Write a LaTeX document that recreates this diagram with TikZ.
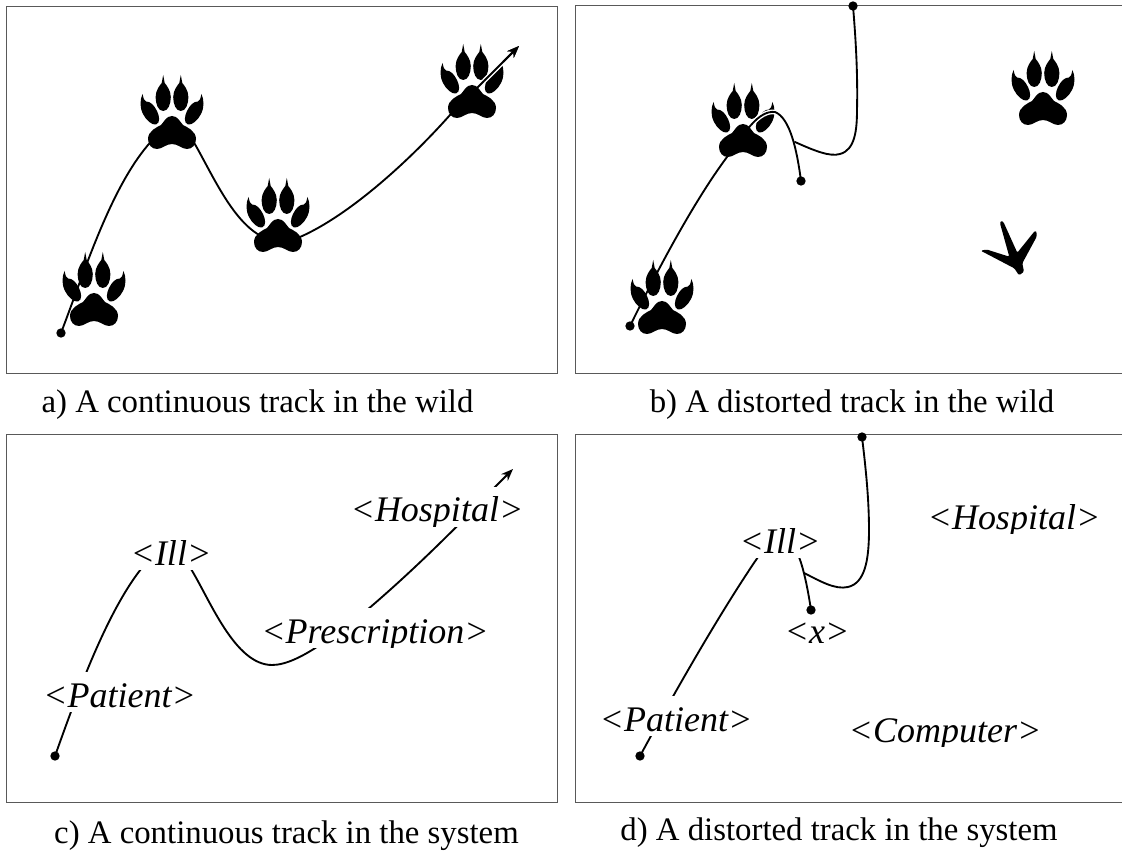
\documentclass[tikz,border=0pt]{standalone}
\usepackage{fontspec}
\setmainfont{Liberation Serif}
\usetikzlibrary{arrows.meta}
\tikzset{
  frameline/.style={draw=black!65,line width=0.75pt},
  track/.style={line width=1.4pt,line cap=round},
  trackdot/.style={circle,fill=black,inner sep=0pt,minimum size=7pt},
  arrowed/.style={-{Stealth[length=9pt,width=7pt]}},
  caption/.style={font=\fontsize{24.6}{28}\selectfont,anchor=base,inner sep=0pt},
  markbox/.style={fill=white,anchor=base,inner xsep=1pt,inner ysep=0pt,text height=26pt,text depth=3.4pt,font=\fontsize{27}{30}\selectfont\itshape},
  marktext/.style={anchor=base,inner sep=0pt,font=\fontsize{27}{30}\selectfont\itshape},
  pics/paw/.style={code={
    % Pad
    \fill (0,-17) .. controls (6,-17) and (8,-11) .. (11,-8) .. controls (15,-6) and (24,-2) .. (24,6) .. controls (24,12) and (20,16) .. (15,16) .. controls (10,16) and (6,11) .. (0,11) .. controls (-6,11) and (-10,16) .. (-15,16) .. controls (-20,16) and (-24,12) .. (-24,6) .. controls (-24,-2) and (-15,-6) .. (-11,-8) .. controls (-8,-11) and (-6,-17) .. (0,-17) -- cycle;
    \foreach \side in {-1,1} {
      % Inner toes
      \begin{scope}[xshift=\side*6.6pt]
      \fill (0,-22) .. controls (-5,-22) and (-7.6,-29) .. (-7.6,-36) .. controls (-7.6,-43) and (-3,-48) .. (-1.5,-50) .. controls (-1,-53) and (-0.5,-55) .. (0,-58) .. controls (0.5,-55) and (1,-53) .. (1.5,-50) .. controls (3,-48) and (7.6,-43) .. (7.6,-36) .. controls (7.6,-29) and (5,-22) .. (0,-22) -- cycle;
      \end{scope}
      % Outer toes
      \begin{scope}[xscale=\side]
      \fill (-29.5,-39) .. controls (-32,-33) and (-32.5,-26) .. (-29,-19) .. controls (-26,-13) and (-20,-7.5) .. (-16,-8.5) .. controls (-11.5,-10) and (-12.5,-17) .. (-15,-22) .. controls (-18,-28) and (-21.5,-31.5) .. (-26,-31.5) .. controls (-28,-33) .. (-29.5,-39) -- cycle;
      \end{scope}
    }
  }},
}
% Label with a white box that cuts the track and the descenders
\newcommand{\tracklabel}[3]{%
  \node [markbox] (#1) at (#2) {\phantom{#3}};%
  \begin{scope}
    \clip (#1.south west) rectangle (#1.north east);
    \node [marktext] (#1text) at (#1.base) {#3};%
  \end{scope}}
\begin{document}
\begin{tikzpicture}[x=0.75pt,y=-0.75pt]
  \useasboundingbox (0,0) rectangle (1122,852);

  % Drawing the four frames
  \draw [frameline] (6,7) rectangle (557,374);%
  \draw [frameline] (1122,6) -- (575,6) -- (575,374) -- (1122,374);%
  \draw [frameline] (6,435) rectangle (557,802);%
  \draw [frameline] (1122,435) -- (575,435) -- (575,802) -- (1122,802);%

  % Drawing track a
  \draw [track,arrowed] (61,333) .. controls (85,270) and (110,190) .. (148,145) .. controls (158,133) and (185,125) .. (196,146) .. controls (215,180) and (235,225) .. (265,238) .. controls (277,243) and (290,242) .. (300,237) .. controls (350,215) and (410,160) .. (450,115) -- (519,46);%
  \node [trackdot] (a0) at (61,333) {};%

  % Marking paws of track a
  \pic at (94,310) {paw};%
  \pic at (172,133) {paw};%
  \pic at (278,236) {paw};%
  \pic at (472,102) {paw};%
  \draw [white,line width=3.5pt] (484,81) -- (503,62);%
  \draw [track,arrowed] (484,81) -- (519,46);%

  % Drawing track b
  \draw [track] (630,326) .. controls (660,265) and (695,200) .. (727,157) .. controls (733,148) and (742,135) .. (751,125) .. controls (759,116) and (767,111) .. (775,112) .. controls (790,118) and (797,150) .. (801,181);%
  \draw [track] (795,142) .. controls (815,151) and (830,157) .. (840,154) .. controls (855,150) and (857,130) .. (857,110) .. controls (858,70) and (855,30) .. (853,6);%
  \node [trackdot] (b0) at (630,326) {};%
  \node [trackdot] (b1) at (801,181) {};%
  \node [trackdot] (b2) at (853,6) {};%

  % Marking paws and foot of track b
  \pic at (662,318) {paw};%
  \pic at (743,141) {paw};%
  \pic at (1043,109) {paw};%
  \draw [white,line width=3.5pt] (751,125) .. controls (759,116) and (767,111) .. (775,112);%
  \draw [track] (751,125) .. controls (759,116) and (767,111) .. (775,112);%
  \fill [rounded corners=1pt] (1000.7,220.7) -- (1003.3,221.7) -- (1017.3,252.7) -- (1035,230.7) -- (1036.7,232) -- (1036.7,236.7) -- (1022.3,263.3) -- (1024,271.7) -- (1019,275.3) -- (1014.3,268.3) -- (980.7,250.7) -- (986.7,249.5) -- (1009.3,256.7) -- (1000,223.3) -- cycle;%

  % Drawing track c
  \draw [track,arrowed] (55,756) .. controls (75,700) and (105,615) .. (141,569) .. controls (155,545) and (175,545) .. (191,569) .. controls (210,600) and (235,665) .. (272,665) .. controls (300,665) and (340,630) .. (367,610) .. controls (400,582) and (445,540) .. (494,488) -- (513,469);%
  \tracklabel{cpatient}{119.5,707}{<Patient>}
  \tracklabel{cill}{171,565}{<Ill>}
  \tracklabel{cprescription}{375,643}{<Prescription>}
  \tracklabel{chospital}{437,522}{<Hospital>}
  \node [trackdot] (c0) at (55,756) {};%

  % Drawing track d
  \draw [track] (640,756) .. controls (665,710) and (715,620) .. (758,557) .. controls (770,540) and (790,535) .. (799,557) .. controls (804,570) and (808,590) .. (811,610);%
  \draw [track] (804,573) .. controls (820,581) and (835,590) .. (848,587) .. controls (865,583) and (869,560) .. (869,530) .. controls (869,500) and (866,470) .. (862,437);%
  \tracklabel{dpatient}{676,731}{<Patient>}
  \tracklabel{dill}{780,553}{<Ill>}
  \tracklabel{dx}{817,643}{<x>}
  \tracklabel{dhospital}{1014,529}{<Hospital>}
  \tracklabel{dcomputer}{945,742}{<Computer>}
  \node [trackdot] (d0) at (640,756) {};%
  \node [trackdot] (d1) at (811,610) {};%
  \node [trackdot] (d2) at (862,437) {};%

  % Writing captions
  \node [caption] (capa) at (257.5,412) {a) A continuous track in the wild};%
  \node [caption] (capb) at (852,412) {b) A distorted track in the wild};%
  \node [caption] (capc) at (286.5,843) {c) A continuous track in the system};%
  \node [caption] (capd) at (839,840) {d) A distorted track in the system};%
\end{tikzpicture}
\end{document}
